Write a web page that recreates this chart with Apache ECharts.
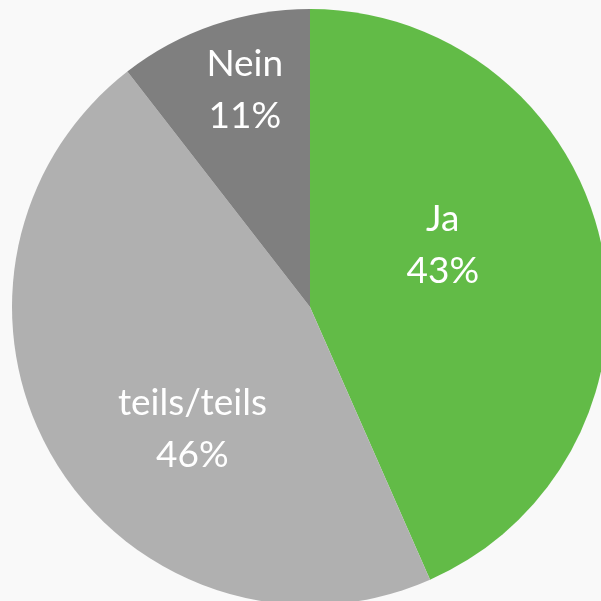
<!DOCTYPE html>
<html><head><meta charset="utf-8">
<script src="https://cdn.jsdelivr.net/npm/echarts@6/dist/echarts.min.js"></script>
<style>html,body{margin:0;padding:0;background:#f9f9f9}#c{width:601px;height:601px}</style>
</head><body><div id="c"></div>
<script>
const categories = ['Ja', 'teils/teils', 'Nein'];
const values = [43.4, 46.1, 10.5];
const colors = ['#62bb47', '#b0b0b0', '#7f7f7f'];
const labelOffsets = [[-16, -31], [13, 44], [-16, -73]];

const chart = echarts.init(document.getElementById('c'), null, {renderer: 'canvas'});
chart.setOption({
  backgroundColor: '#f9f9f9',
  animation: false,
  series: [{
    type: 'pie',
    center: [310, 307],
    radius: [0, 298],
    startAngle: 90,
    clockwise: true,
    avoidLabelOverlap: false,
    itemStyle: {borderWidth: 0},
    label: {
      show: true,
      position: 'inside',
      color: '#ffffff',
      fontFamily: 'Lato',
      fontSize: 37,
      lineHeight: 52,
      formatter: p => p.name + '\n' + Math.round(p.value) + '%'
    },
    labelLine: {show: false},
    data: categories.map((n, i) => ({
      name: n, value: values[i],
      itemStyle: {color: colors[i]},
      label: {offset: labelOffsets[i]}
    }))
  }]
});
</script></body></html>
